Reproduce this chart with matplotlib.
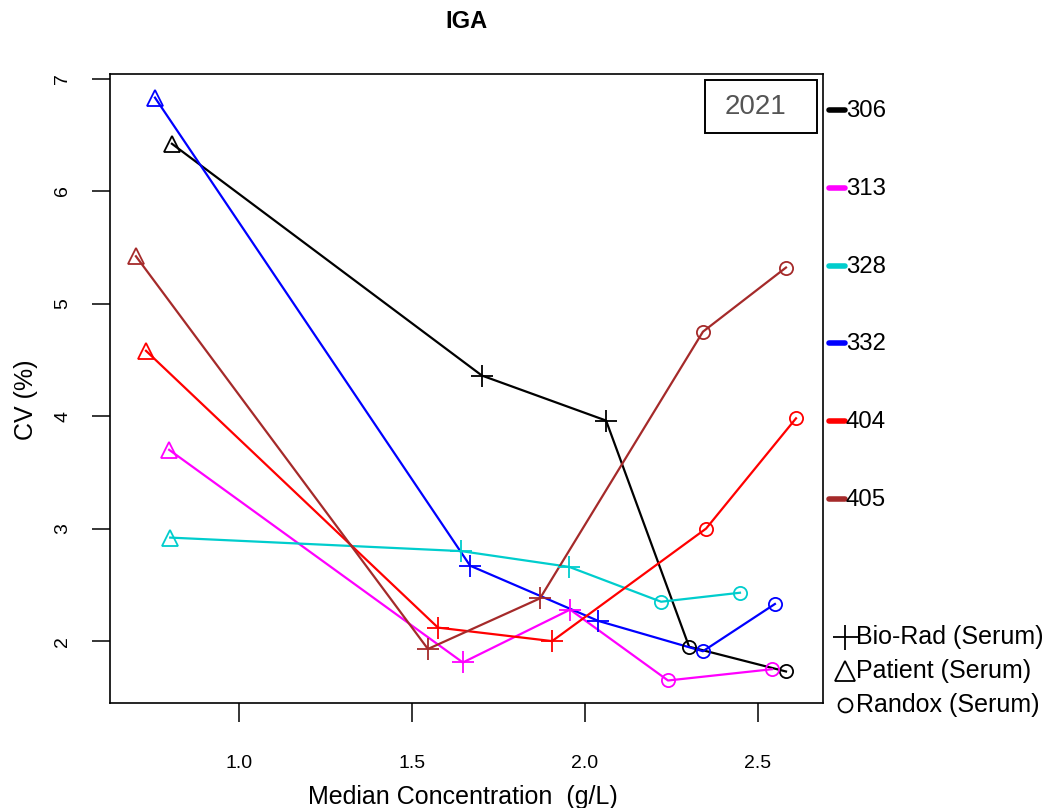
import matplotlib
matplotlib.use("Agg")
import matplotlib.pyplot as plt
from matplotlib.lines import Line2D
from matplotlib.patches import Rectangle

plt.rcParams['font.family'] = ['Liberation Sans', 'DejaVu Sans']

# --- data (IGA, 2021) ---
labs = ["306", "313", "328", "332", "404", "405"]
colors = ["black", "magenta", "#00CDCD", "blue", "red", "#A52A2A"]

# marker kind for each point (same order for every lab)
kinds = ["^", "+", "+", "o", "o"]

x_306 = [0.806, 1.702, 2.061, 2.301, 2.581]
y_306 = [6.42, 4.36, 3.96, 1.95, 1.73]
x_313 = [0.798, 1.647, 1.957, 2.240, 2.540]
y_313 = [3.70, 1.81, 2.28, 1.65, 1.75]
x_328 = [0.801, 1.642, 1.954, 2.220, 2.448]
y_328 = [2.92, 2.80, 2.66, 2.35, 2.43]
x_332 = [0.757, 1.668, 2.038, 2.341, 2.549]
y_332 = [6.83, 2.67, 2.18, 1.91, 2.33]
x_404 = [0.731, 1.575, 1.905, 2.350, 2.610]
y_404 = [4.58, 2.12, 2.00, 3.00, 3.98]
x_405 = [0.702, 1.546, 1.870, 2.341, 2.581]
y_405 = [5.42, 1.93, 2.38, 4.75, 5.32]

xs = [x_306, x_313, x_328, x_332, x_404, x_405]
ys = [y_306, y_313, y_328, y_332, y_404, y_405]

materials = ["Bio-Rad (Serum)", "Patient (Serum)", "Randox (Serum)"]
material_markers = ["+", "^", "o"]

xticks = [1.0, 1.5, 2.0, 2.5]
yticks = [2, 3, 4, 5, 6, 7]

W, H = 1047, 808
fig = plt.figure(figsize=(W / 100, H / 100), dpi=100)
ax = fig.add_axes([110 / W, 1 - 703 / H, 713 / W, 629 / H])

msize = {"^": 12, "+": 16, "o": 9.5}
for xv, yv, c in zip(xs, ys, colors):
    ax.plot(xv, yv, color=c, lw=1.6, zorder=2)
    for px, py, m in zip(xv, yv, kinds):
        ax.plot(px, py, marker=m, color=c, mfc="none", ms=msize[m],
                mew=1.3, linestyle="none", zorder=3)

ax.set_xlim(0.627, 2.688)
ax.set_ylim(1.45, 7.04)
ax.set_xticks(xticks)
ax.set_xticklabels([f"{t:.1f}" for t in xticks], fontsize=14)
ax.set_yticks(yticks)
ax.set_yticklabels([str(t) for t in yticks], fontsize=14, rotation=90, va="center")
ax.tick_params(axis="x", length=13.5, width=1.1, pad=24)
ax.tick_params(axis="y", length=13, width=1.1, pad=15)
for s in ax.spines.values():
    s.set_linewidth(1.2)

fig.text(466 / W, 1 - 22 / H, "IGA", fontsize=17, fontweight="bold",
         ha="center", va="center")
fig.text(463 / W, 1 - 797 / H, "Median Concentration  (g/L)", fontsize=18,
         ha="center", va="center")
fig.text(26 / W, 1 - 400 / H, "CV (%)", fontsize=18, rotation=90,
         ha="center", va="center")

# year box
fig.add_artist(Rectangle((705 / W, 1 - 133 / H), 112 / W, 53 / H,
                         transform=fig.transFigure, fc="white", ec="black",
                         lw=1.4, zorder=4))
fig.text(756 / W, 1 - 107 / H, "2021", fontsize=20, color="#555555",
         ha="center", va="center", zorder=5)

# lab legend (outside right)
lab_y = [110, 188, 266, 343, 421, 499]
for lab, c, yy in zip(labs, colors, lab_y):
    fig.add_artist(Line2D([829 / W, 845 / W], [1 - yy / H, 1 - yy / H],
                          color=c, lw=4, solid_capstyle="round"))
    fig.text(846 / W, 1 - (yy + 1) / H, lab, fontsize=17.3, ha="left", va="center")

# material legend
mat_y = [637, 671, 705]
leg_ms = {"+": 18, "^": 15, "o": 10}
for name, m, yy in zip(materials, material_markers, mat_y):
    fig.add_artist(Line2D([845 / W], [1 - yy / H], marker=m, color="black",
                          mfc="none", ms=leg_ms[m], mew=1.3, linestyle="none"))
    fig.text(856 / W, 1 - yy / H, name, fontsize=18, ha="left", va="center")

fig.savefig("out.png", dpi=100)
